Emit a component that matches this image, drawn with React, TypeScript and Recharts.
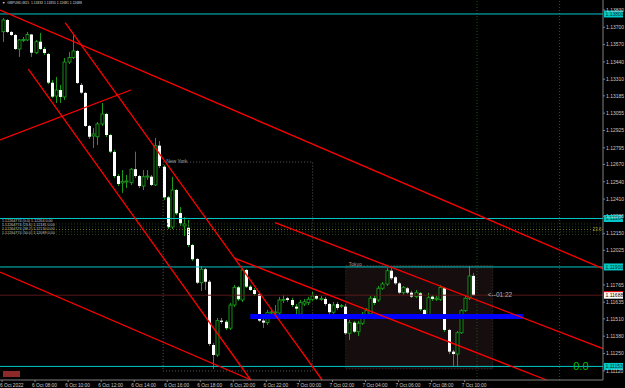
import { Bar, ComposedChart, ReferenceArea, ReferenceDot, ReferenceLine, XAxis, YAxis } from "recharts";

// GBPUSD M15, 6 Oct 06:00 .. 7 Oct 10:30
const opens = [
  1.13667, 1.13755, 1.13665, 1.13642, 1.13537, 1.13605, 1.13605, 1.13646, 1.13509, 1.13592,
  1.13537, 1.135, 1.13284, 1.13184, 1.13229, 1.13177, 1.13439, 1.13473, 1.13522, 1.13267,
  1.13207, 1.12959, 1.12884, 1.12878, 1.12974, 1.13049, 1.12891, 1.12764, 1.12583, 1.12531,
  1.12538, 1.12533, 1.12634, 1.12583, 1.12508, 1.12576, 1.12578, 1.12516, 1.12811, 1.12653,
  1.12423, 1.122, 1.12478, 1.12305, 1.12208, 1.12195, 1.12065, 1.1196, 1.11782, 1.11883,
  1.11789, 1.11314, 1.11239, 1.11497, 1.11489, 1.1144, 1.11614, 1.11747, 1.11652, 1.11877,
  1.11752, 1.11727, 1.11697, 1.11497, 1.11482, 1.11554, 1.11558, 1.11554, 1.11652, 1.11665,
  1.11652, 1.11602, 1.11545, 1.11622, 1.11632, 1.11657, 1.11682, 1.1166, 1.1166, 1.11622,
  1.1156, 1.11622, 1.11607, 1.11602, 1.11402, 1.11482, 1.11414, 1.11477, 1.11539, 1.11547,
  1.11665, 1.11652, 1.1174, 1.11772, 1.11872, 1.11823, 1.11777, 1.11707, 1.1174, 1.11707,
  1.11677, 1.11702, 1.11577, 1.11534, 1.11677, 1.11657, 1.11657, 1.1174, 1.11427, 1.11264,
  1.11246, 1.11406, 1.11572, 1.11665, 1.11833,
];
const highs = [
  1.1377, 1.13762, 1.13672, 1.1365, 1.13612, 1.13627, 1.13665, 1.1365, 1.13605, 1.13657,
  1.13552, 1.13507, 1.13304, 1.13327, 1.13267, 1.13469, 1.13515, 1.13642, 1.1353, 1.13282,
  1.13214, 1.12966, 1.12944, 1.12989, 1.13132, 1.13056, 1.12899, 1.12779, 1.12598, 1.12628,
  1.12591, 1.12643, 1.12766, 1.12591, 1.12628, 1.12628, 1.12591, 1.12869, 1.12846, 1.12666,
  1.12433, 1.12576, 1.12486, 1.1235, 1.12275, 1.12253, 1.12073, 1.11967, 1.11907, 1.11892,
  1.11802, 1.11329, 1.11517, 1.11517, 1.11502, 1.1163, 1.11765, 1.11757, 1.11892, 1.11885,
  1.11765, 1.11742, 1.11705, 1.11517, 1.11577, 1.11584, 1.11614, 1.11675, 1.1169, 1.11675,
  1.11667, 1.11622, 1.11652, 1.1166, 1.11675, 1.11714, 1.1169, 1.11682, 1.11675, 1.1163,
  1.11637, 1.11637, 1.11622, 1.11622, 1.11502, 1.11494, 1.11494, 1.11562, 1.11592, 1.11682,
  1.11682, 1.11757, 1.11787, 1.11892, 1.11898, 1.11832, 1.11787, 1.11757, 1.1175, 1.1172,
  1.11727, 1.11712, 1.11584, 1.11705, 1.1169, 1.11682, 1.11765, 1.1175, 1.11434, 1.11277,
  1.11419, 1.11584, 1.11682, 1.11902, 1.11855,
];
const lows = [
  1.1359, 1.13657, 1.13635, 1.1353, 1.13477, 1.1359, 1.13597, 1.13477, 1.135, 1.1353,
  1.13492, 1.13274, 1.13169, 1.13132, 1.13132, 1.13154, 1.13424, 1.13462, 1.13274, 1.13199,
  1.12951, 1.12861, 1.12794, 1.12816, 1.12959, 1.12876, 1.12756, 1.12568, 1.12508, 1.12456,
  1.12493, 1.12516, 1.12568, 1.12493, 1.12478, 1.12553, 1.12508, 1.12508, 1.12643, 1.12403,
  1.12185, 1.12185, 1.1229, 1.12208, 1.12133, 1.1205, 1.11945, 1.11772, 1.1172, 1.11727,
  1.11307, 1.11134, 1.11224, 1.11472, 1.11427, 1.11427, 1.11599, 1.11645, 1.11637, 1.11742,
  1.1172, 1.11682, 1.11487, 1.11442, 1.11464, 1.11532, 1.11517, 1.11539, 1.1163, 1.11637,
  1.11599, 1.11539, 1.11532, 1.11607, 1.11614, 1.11645, 1.11652, 1.11645, 1.11607, 1.11547,
  1.11547, 1.11577, 1.11592, 1.11389, 1.11352, 1.11404, 1.11382, 1.11464, 1.11524, 1.11532,
  1.11614, 1.11637, 1.11727, 1.11757, 1.11802, 1.11765, 1.11697, 1.1169, 1.11697, 1.11667,
  1.11667, 1.11569, 1.11524, 1.11524, 1.11645, 1.11645, 1.11645, 1.11412, 1.11246, 1.11156,
  1.11156, 1.11397, 1.11562, 1.11652, 1.11681,
];
const closes = [
  1.13755, 1.13665, 1.13642, 1.13537, 1.13605, 1.13608, 1.13646, 1.13509, 1.13592, 1.13537,
  1.13507, 1.13284, 1.13179, 1.13229, 1.13177, 1.13439, 1.13473, 1.13522, 1.13282, 1.13209,
  1.12959, 1.12878, 1.12899, 1.12974, 1.13049, 1.12891, 1.12766, 1.12583, 1.12523, 1.12542,
  1.12546, 1.12634, 1.12583, 1.12508, 1.12578, 1.12583, 1.12516, 1.12811, 1.12658, 1.12423,
  1.12198, 1.12478, 1.12303, 1.12228, 1.12223, 1.12065, 1.11958, 1.11782, 1.11883, 1.11789,
  1.11322, 1.11239, 1.11497, 1.11487, 1.1144, 1.11614, 1.11747, 1.11657, 1.11877, 1.11752,
  1.11727, 1.11697, 1.11497, 1.11482, 1.11557, 1.11562, 1.11562, 1.11652, 1.11657, 1.11652,
  1.11614, 1.11587, 1.11632, 1.11639, 1.11657, 1.11682, 1.11662, 1.11663, 1.11622, 1.1156,
  1.11614, 1.11592, 1.11611, 1.11402, 1.11482, 1.11414, 1.11477, 1.11539, 1.11572, 1.11665,
  1.1163, 1.1174, 1.11772, 1.11872, 1.11815, 1.11777, 1.11707, 1.11747, 1.11707, 1.11677,
  1.11707, 1.11582, 1.11534, 1.11669, 1.1166, 1.11665, 1.11747, 1.11427, 1.11264, 1.11246,
  1.11406, 1.11572, 1.11665, 1.11832, 1.11688,
];

const slotCount = 146; // bars + chart shift space
const timeTicks = [0, 8, 16, 24, 32, 40, 48, 56, 64, 72, 80, 88, 96, 104, 112];
const timeLabels = [
  "6 Oct 2022", "6 Oct 08:00", "6 Oct 10:00", "6 Oct 12:00", "6 Oct 14:00",
  "6 Oct 16:00", "6 Oct 18:00", "6 Oct 20:00", "6 Oct 22:00", "7 Oct 00:00",
  "7 Oct 02:00", "7 Oct 04:00", "7 Oct 06:00", "7 Oct 08:00", "7 Oct 10:00",
];
const priceTicks = [
  1.1383, 1.137, 1.1357, 1.1344, 1.1331, 1.13185, 1.13055, 1.12925, 1.12795, 1.1267,
  1.1254, 1.1241, 1.1228, 1.1215, 1.12025, 1.11765, 1.11635, 1.1151, 1.1138, 1.1125, 1.1112,
];
const levels = [1.138, 1.12264, 1.119, 1.11153];
const levelLabels = ["1.13800", "1.12264", "1.11900", "1.11153"];
const fibLevels = [1.12223, 1.122, 1.12181, 1.12163, 1.12144];
const fibNames = [
  "1.12264774 (0.0) 1.12264 0.00",
  "1.12264774 (23.6) 1.12181 0.00",
  "1.12264774 (38.2) 1.12130 0.00",
  "1.12264774 (50.0) 1.12089 0.00",
];
const bidPrice = 1.11688;

// trend lines: [barIndex, price] pairs
const trendLines = [
  [-0.5, 1.1383, 145.5, 1.11887],
  [15.27, 1.13735, 77.5, 1.11051],
  [6.36, 1.13385, 60.2, 1.11051],
  [-0.5, 1.12854, 31.2, 1.13229],
  [-0.5, 1.11862, 60.3, 1.11051],
  [56.4, 1.11965, 131.8, 1.11051],
  [66.1, 1.12233, 145.5, 1.11287],
];
const support = [60.1, 126.1, 1.11527];
const sessions = [
  { name: "New York", x1: 39, x2: 75.2, y1: 1.11119, y2: 1.12688 },
  { name: "Tokyo", x1: 83.2, x2: 118.8, y1: 1.11134, y2: 1.11911 },
];
const markers = [115, 135];

const data = Array.from({ length: slotCount }, (_, i) =>
  i < opens.length
    ? { i, range: [lows[i], highs[i]], o: opens[i], h: highs[i], l: lows[i], c: closes[i] }
    : { i }
);

const GREEN = "#1c9a1c";
const CYAN = "#00c8c8";
const AXIS = "#c8c8c8";
const FONT = "Liberation Sans, Arial, sans-serif";

function Candle(props: any) {
  const { x, y, width, height, payload } = props;
  if (!payload || payload.o == null) return null;
  const { o, h, l, c } = payload;
  const top = Math.min(y, y + height);
  const hh = Math.abs(height);
  const span = h - l || 1e-9;
  const toY = (v: number) => top + ((h - v) / span) * hh;
  const cx = Math.round(x + width / 2) + 0.5;
  const bTop = toY(Math.max(o, c));
  const bBot = toY(Math.min(o, c));
  const bull = c > o;
  return (
    <g>
      <line x1={cx} x2={cx} y1={top} y2={top + hh} stroke={GREEN} strokeWidth={1} />
      <rect
        x={cx - 1.5}
        y={bTop}
        width={3}
        height={Math.max(1, bBot - bTop)}
        fill={bull ? "#000" : "#ffffff"}
        stroke={bull ? GREEN : "none"}
        strokeWidth={0.9}
      />
    </g>
  );
}

function TimeTick(props: any) {
  const { x, y, payload } = props;
  const k = timeTicks.indexOf(payload.value);
  return (
    <g>
      <line x1={x} x2={x} y1={y} y2={y + 2} stroke="#808080" />
      <text x={Math.max(0, x - 3)} y={y + 6.8} fontSize={4.8} fill={AXIS} fontFamily={FONT}>
        {timeLabels[k]}
      </text>
    </g>
  );
}

function PriceTick(props: any) {
  const { x, y, payload } = props;
  return (
    <g>
      <line x1={x} x2={x + 2} y1={y} y2={y} stroke="#808080" />
      <text x={x + 3} y={y + 1.8} fontSize={5} fill={AXIS} fontFamily={FONT}>
        {payload.value.toFixed(5)}
      </text>
    </g>
  );
}

function Tag(props: any) {
  const { viewBox, text, bg, fg, edge } = props;
  const x = viewBox.x + viewBox.width;
  const y = viewBox.y;
  return (
    <g>
      <rect x={x + 1} y={y - 3.5} width={19} height={7} fill={bg} />
      {edge && <line x1={x + 1} x2={x + 20} y1={y - 3.5} y2={y - 3.5} stroke={edge} />}
      <text x={x + 2.5} y={y + 1.8} fontSize={5} fill={fg} fontFamily={FONT}>
        {text}
      </text>
    </g>
  );
}

// stacked fibo level descriptions at the left edge
function FibBlock(props: any) {
  const { viewBox } = props;
  return (
    <text x={viewBox.x + 2} y={viewBox.y - 2} fontSize={3.7} fill="#c8c8c8" fontFamily={FONT}>
      {fibNames.map((t, k) => (
        <tspan key={k} x={viewBox.x + 2} dy={k === 0 ? 0 : 3.9}>
          {t}
        </tspan>
      ))}
    </text>
  );
}

function DotText(props: any) {
  const { viewBox, text, color, size, dy } = props;
  return (
    <text x={viewBox.x} y={viewBox.y + (dy || 0)} fontSize={size} fill={color} fontFamily={FONT}>
      {text}
    </text>
  );
}

function BoxTitle(props: any) {
  const { viewBox, text, color } = props;
  return (
    <text x={viewBox.x + 3} y={viewBox.y + 1} fontSize={5} fill={color} fontFamily={FONT}>
      {text}
    </text>
  );
}

export default function App() {
  return (
    <div style={{ position: "fixed", left: 0, top: 0, width: 625, height: 388, background: "#000" }}>
      <ComposedChart width={625} height={388} data={data} margin={{ top: 0, right: 0, bottom: 0, left: 0 }}>
        <XAxis
          dataKey="i"
          type="category"
          ticks={timeTicks}
          interval={0}
          height={8}
          tickLine={false}
          tickSize={0}
          tickMargin={0}
          stroke="#808080"
          tick={<TimeTick />}
        />
        <XAxis xAxisId="n" dataKey="i" type="number" domain={[-0.5, 145.5]} allowDataOverflow hide />
        <YAxis
          orientation="right"
          width={22}
          domain={[1.11051, 1.13905]}
          allowDataOverflow
          ticks={priceTicks}
          interval={0}
          tickLine={false}
          tickSize={0}
          tickMargin={0}
          stroke="#808080"
          tick={<PriceTick />}
        />

        {sessions.map((s, k) => (
          <ReferenceArea
            key={s.name}
            xAxisId="n"
            x1={s.x1}
            x2={s.x2}
            y1={s.y1}
            y2={s.y2}
            fill={k === 1 ? "#160e0e" : "none"}
            fillOpacity={1}
            stroke={k === 1 ? "#4a3434" : "#5a5a5a"}
            strokeDasharray="1 2"
            ifOverflow="visible"
            label={<BoxTitle text={s.name} color={k === 1 ? "#b08c8c" : "#a0a0a0"} />}
          />
        ))}

        {fibLevels.map((p, k) => (
          <ReferenceLine
            key={p}
            y={p}
            stroke={k === 2 ? "#6c6c1c" : "#1f3f1f"}
            strokeDasharray="1 2"
            label={k === 0 ? <FibBlock /> : undefined}
          />
        ))}

        {markers.map((m, k) => (
          <ReferenceLine
            key={m}
            xAxisId="n"
            x={m}
            stroke={k === 0 ? "#1f4f1f" : "#3a4a5a"}
            strokeDasharray="1 2"
          />
        ))}

        <ReferenceLine
          y={bidPrice}
          stroke="#5a1818"
          label={<Tag text="1.11688" bg="#ffffff" fg="#000" edge="#ff0000" />}
        />

        <Bar dataKey="range" barSize={3} shape={<Candle />} isAnimationActive={false} />

        {levels.map((p, k) => (
          <ReferenceLine key={p} y={p} stroke={CYAN} strokeWidth={1} label={<Tag text={levelLabels[k]} bg={CYAN} fg="#003030" />} />
        ))}

        <ReferenceLine
          xAxisId="n"
          segment={[
            { x: support[0], y: support[2] },
            { x: support[1], y: support[2] },
          ]}
          stroke="#0000ff"
          strokeWidth={5}
          ifOverflow="visible"
        />

        {trendLines.map((t, k) => (
          <ReferenceLine
            key={k}
            xAxisId="n"
            segment={[
              { x: t[0], y: t[1] },
              { x: t[2], y: t[3] },
            ]}
            stroke="#ff0000"
            strokeWidth={1.3}
            ifOverflow="visible"
          />
        ))}

        <ReferenceDot
          xAxisId="n"
          x={117.6}
          y={bidPrice}
          r={0}
          ifOverflow="visible"
          label={<DotText text="<--01:22" color="#b4b4b4" size={6.5} dy={2.2} />}
        />
        <ReferenceDot
          xAxisId="n"
          x={138.3}
          y={levels[3]}
          r={0}
          ifOverflow="visible"
          label={<DotText text="0.0" color="#00c000" size={11} dy={4} />}
        />
        <ReferenceDot
          xAxisId="n"
          x={143}
          y={fibLevels[2]}
          r={0}
          ifOverflow="visible"
          label={<DotText text="23.6" color="#a0a030" size={4.5} dy={1.5} />}
        />
      </ComposedChart>
      <div
        style={{
          position: "absolute",
          left: 2,
          top: 0,
          fontFamily: FONT,
          fontSize: 3.4,
          color: "#d8d8d8",
          whiteSpace: "pre",
          lineHeight: "7px",
        }}
      >
        {"▼  GBPUSD,M15  1.11833 1.11855 1.11681 1.11688"}
      </div>
      <div style={{ position: "absolute", left: 3, top: 371, width: 17, height: 6, background: "#8c2a2a" }} />
    </div>
  );
}
